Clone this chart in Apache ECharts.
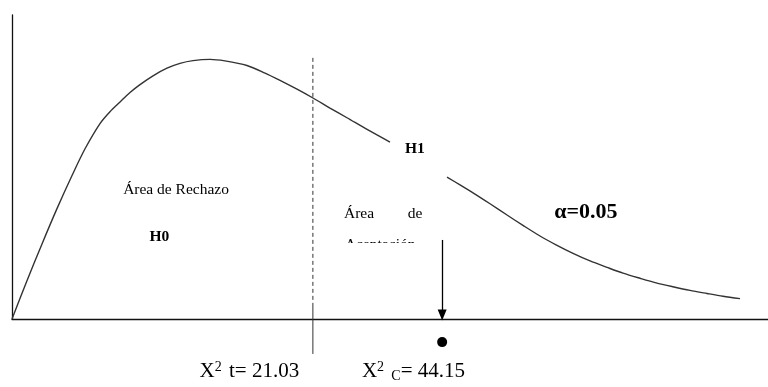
<!DOCTYPE html>
<html>
<head>
<meta charset="utf-8">
<script src="https://cdn.jsdelivr.net/npm/echarts@6/dist/echarts.min.js"></script>
<style>
  html, body { margin: 0; padding: 0; background: #fff; }
  #chart { width: 768px; height: 387px; }
</style>
</head>
<body>
<div id="chart"></div>
<script>
// chi-square density sketch (schematic units, 0..100 on both axes)
const headX = [0, 1.98, 3.97, 5.95, 7.94, 9.66, 11.64, 12.96, 14.29, 15.61, 16.93, 18.65, 20.5,
  22.22, 23.94, 26.19, 28.17, 31.08, 33.47, 35.45, 37.7, 39.81, 42.06, 44.31, 47.09, 50.0];
const headY = [0, 12.6, 24.7, 36.3, 47.2, 56.0, 64.3, 68.2, 71.4, 74.5, 77.1, 80.0, 82.5,
  84.1, 85.0, 85.4, 84.9, 83.4, 80.9, 78.5, 75.6, 72.7, 69.4, 66.2, 62.2, 58.2];
const tailX = [57.54, 59.26, 60.98, 63.23, 65.48, 67.59, 69.84, 71.96, 74.21, 76.46, 78.7, 80.82,
  83.07, 85.19, 87.43, 89.68, 91.93, 94.05, 96.3];
const tailY = [46.7, 44.1, 41.5, 37.9, 34.2, 30.8, 27.3, 24.4, 21.6, 19.1, 17.0, 15.1,
  13.4, 11.9, 10.6, 9.4, 8.4, 7.5, 6.7];

const chiTable = "21.03";
const chiCalc = "44.15";
const alpha = "0.05";
const tableX = 39.8;
const calcX = 56.9;

const serif = "Liberation Serif";
const ink = "#000";

const zip = (xs, ys) => xs.map((x, i) => [x, ys[i]]);

const textPoint = (x, y, text, style) => ({
  value: [x, y],
  label: Object.assign({ show: true, formatter: text, position: "inside",
    fontFamily: serif, color: ink, fontSize: 15.5 }, style),
});

const dom = document.getElementById("chart");
const myChart = echarts.init(dom);

const option = {
  backgroundColor: "#fff",
  animation: false,
  grid: { left: 12, right: 0, top: 15, bottom: 68 },
  xAxis: {
    type: "value", min: 0, max: 100,
    axisLine: { show: true, lineStyle: { color: "#111", width: 1.3 } },
    axisTick: { show: false }, axisLabel: { show: false }, splitLine: { show: false },
  },
  yAxis: {
    type: "value", min: 0, max: 100,
    axisLine: { show: true, lineStyle: { color: "#111", width: 1.3 } },
    axisTick: { show: false }, axisLabel: { show: false }, splitLine: { show: false },
  },
  series: [
    {
      type: "line", data: zip(headX, headY), smooth: 0.3, symbol: "none",
      lineStyle: { color: "#333", width: 1.4 },
    },
    {
      type: "line", data: zip(tailX, tailY), smooth: 0.3, symbol: "none",
      lineStyle: { color: "#333", width: 1.4 },
    },
    {
      // critical value line: dashed above, solid below axis
      type: "line", data: [[tableX, 85.9], [tableX, 5.3]], symbol: "none",
      lineStyle: { color: "#333", width: 1, type: [4, 3] },
    },
    {
      type: "line", data: [[tableX, 5.3], [tableX, -11.5]], symbol: "none", clip: false,
      lineStyle: { color: "#333", width: 1 },
    },
    {
      type: "line", data: [], clip: false,
      markLine: {
        silent: true, symbol: ["none", "triangle"], symbolSize: [9, 11],
        label: { show: false },
        lineStyle: { color: "#000", width: 1.3, type: "solid" },
        data: [[{ coord: [calcX, 26] }, { coord: [calcX, 1.3] }]],
      },
    },
    {
      type: "scatter", clip: false, symbol: "circle", symbolSize: 10,
      itemStyle: { color: "#000", opacity: 1 }, data: [[calcX, -7.6]], z: 3,
    },
    {
      type: "scatter", clip: false, symbolSize: 0, z: 3,
      itemStyle: { opacity: 1 },
      data: [
        textPoint(21.7, 42.4, "Área de Rechazo"),
        textPoint(19.5, 27.0, "H0", { fontWeight: "bold" }),
        textPoint(53.3, 55.9, "H1", { fontWeight: "bold" }),
        textPoint(45.9, 34.5, "Área"),
        textPoint(53.3, 34.5, "de"),
        textPoint(48.7, 24.3, "Aceptación"),
        textPoint(75.9, 35.2, "α=" + alpha, { fontWeight: "bold", fontSize: 22 }),
        textPoint(31.4, -17.4, "X{sup|2} t= " + chiTable, {
          fontSize: 21,
          rich: { sup: { fontFamily: serif, color: ink, fontSize: 14, padding: [0, 2, 9, 0] } },
        }),
        textPoint(53.1, -17.4, "X{sup|2} {sub|C}= " + chiCalc, {
          fontSize: 21,
          rich: {
            sup: { fontFamily: serif, color: ink, fontSize: 14, padding: [0, 2, 9, 0] },
            sub: { fontFamily: serif, color: ink, fontSize: 14, padding: [9, 0, 0, 0] },
          },
        }),
      ],
    },
    {
      // white band that hides the lower part of "Aceptación"
      type: "scatter", clip: false, symbol: "rect", symbolSize: [90, 12], z: 5,
      itemStyle: { color: "#fff", opacity: 1 }, data: [[48.7, 23.0]],
    },
  ],
};

myChart.setOption(option);
</script>
</body>
</html>
